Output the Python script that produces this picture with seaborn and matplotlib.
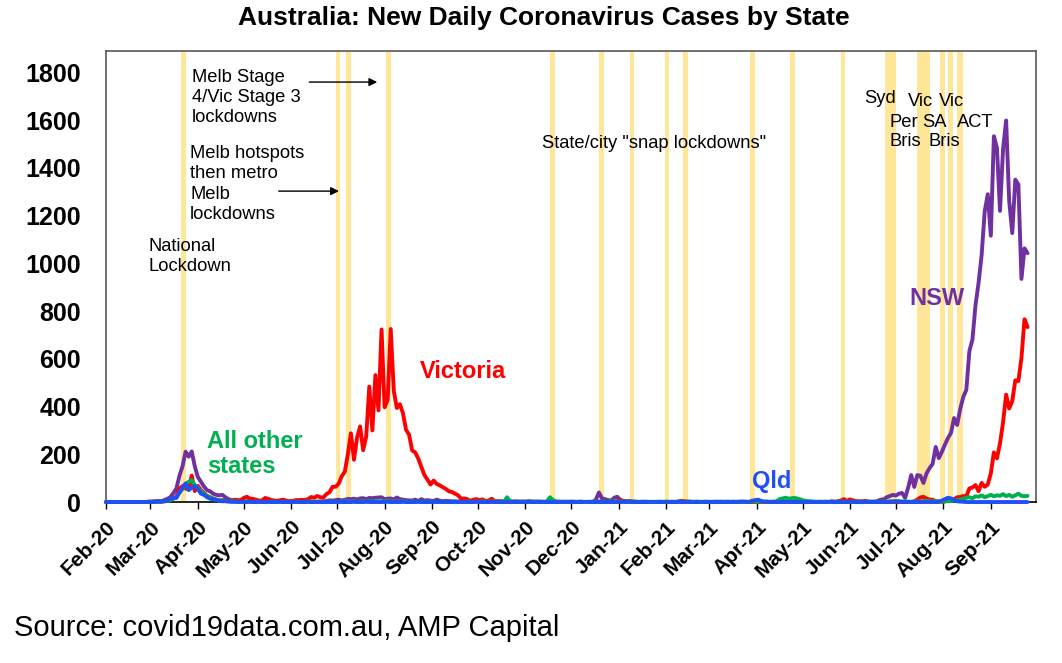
import numpy as np
import pandas as pd
import seaborn as sns
import matplotlib.pyplot as plt
import matplotlib.dates as mdates

sns.set_theme(style="white")
plt.rcParams['font.family'] = ['Liberation Sans', 'DejaVu Sans']
plt.rcParams['text.color'] = 'black'
plt.rcParams['xtick.color'] = 'black'
plt.rcParams['ytick.color'] = 'black'

# Daily cases, one value every 2 days from 1 Feb 2020 (rows of ~30 days)
start_date = "2020-02-01"
step_days = 2

victoria = [
    0, 0, 0, 0, 0, 0, 0, 0, 0, 0, 0, 0, 0, 0, 1,
    1, 1, 2, 1, 3, 6, 13, 14, 23, 57, 67, 56, 54, 111, 46,
    68, 50, 38, 26, 20, 15, 10, 6, 8, 3, 5, 3, 10, 8, 8,
    17, 22, 14, 13, 10, 6, 7, 17, 13, 9, 6, 5, 8, 10, 4,
    4, 4, 8, 8, 9, 8, 12, 21, 18, 25, 20, 19, 33, 41, 64,
    64, 77, 108, 127, 200, 288, 177, 270, 317, 217, 275, 484, 300, 532, 384,
    723, 397, 429, 725, 466, 394, 410, 372, 303, 282, 216, 208, 182, 148, 113,
    94, 73, 90, 76, 70, 62, 55, 45, 42, 35, 28, 14, 15, 12, 5,
    10, 12, 8, 11, 4, 6, 14, 2, 4, 3, 1, 5, 1, 0, 3,
    0, 1, 0, 2, 0, 0, 1, 0, 0, 0, 1, 0, 0, 0, 0,
    0, 0, 0, 0, 0, 0, 0, 0, 0, 0, 0, 0, 0, 0, 0,
    0, 0, 3, 8, 3, 2, 1, 0, 1, 0, 0, 0, 0, 0, 0,
    0, 0, 0, 0, 0, 0, 0, 3, 5, 3, 2, 1, 0, 0, 0,
    0, 0, 0, 0, 0, 0, 0, 0, 0, 0, 0, 0, 0, 0, 0,
    0, 0, 0, 0, 0, 0, 0, 0, 0, 0, 0, 0, 0, 0, 0,
    0, 0, 0, 0, 0, 0, 0, 0, 0, 0, 0, 0, 3, 1, 3,
    6, 12, 5, 11, 7, 4, 3, 3, 5, 2, 1, 1, 0, 1, 2,
    0, 0, 0, 0, 0, 0, 0, 0, 0, 3, 10, 19, 22, 14, 10,
    10, 3, 2, 1, 2, 8, 6, 11, 20, 21, 25, 24, 57, 61, 71,
    45, 80, 64, 73, 120, 208, 183, 246, 334, 450, 392, 423, 510, 507, 603,
    766, 733,
]

nsw = [
    0, 0, 0, 0, 0, 0, 0, 0, 0, 0, 0, 0, 0, 0, 2,
    2, 3, 4, 3, 8, 13, 20, 37, 57, 110, 150, 211, 190, 212, 150,
    105, 85, 65, 50, 45, 35, 30, 28, 30, 20, 12, 8, 6, 4, 3,
    3, 2, 5, 3, 2, 1, 3, 2, 4, 1, 2, 3, 1, 2, 1,
    1, 2, 1, 0, 3, 1, 2, 0, 1, 1, 2, 3, 4, 7, 6,
    8, 10, 7, 9, 13, 12, 14, 10, 15, 16, 12, 17, 16, 18, 19,
    20, 12, 14, 15, 11, 19, 12, 10, 8, 7, 6, 10, 4, 12, 6,
    8, 6, 4, 10, 6, 3, 5, 4, 3, 2, 2, 3, 5, 2, 1,
    3, 4, 2, 1, 3, 1, 2, 3, 1, 2, 1, 2, 1, 2, 1,
    1, 2, 1, 3, 1, 1, 2, 1, 0, 1, 2, 1, 0, 1, 0,
    0, 1, 0, 1, 0, 1, 0, 0, 1, 0, 10, 40, 15, 12, 8,
    6, 18, 22, 8, 5, 3, 4, 2, 1, 0, 1, 0, 0, 0, 0,
    0, 0, 0, 0, 0, 0, 0, 0, 0, 0, 0, 0, 0, 0, 0,
    0, 0, 0, 0, 0, 0, 0, 0, 0, 0, 0, 0, 0, 0, 1,
    0, 1, 0, 0, 0, 0, 0, 0, 0, 0, 0, 0, 0, 0, 0,
    0, 0, 0, 0, 0, 1, 0, 0, 0, 0, 0, 0, 0, 0, 0,
    0, 0, 0, 0, 0, 0, 0, 0, 0, 0, 0, 1, 4, 10, 11,
    20, 25, 30, 27, 35, 38, 17, 60, 113, 63, 113, 110, 80, 120, 142,
    160, 231, 184, 210, 240, 268, 290, 352, 323, 390, 440, 470, 633, 681, 825,
    919, 1035, 1218, 1290, 1116, 1533, 1485, 1220, 1480, 1599, 1262, 1127, 1351, 1331, 935,
    1063, 1043,
]

qld = [
    0, 0, 0, 0, 0, 0, 0, 0, 0, 0, 0, 0, 0, 0, 0,
    0, 1, 2, 2, 4, 5, 15, 17, 17, 40, 60, 78, 50, 60, 67,
    55, 35, 30, 20, 14, 12, 8, 5, 3, 4, 2, 1, 1, 0, 1,
    1, 0, 1, 0, 0, 1, 0, 0, 1, 0, 0, 0, 1, 0, 0,
    0, 0, 1, 0, 0, 0, 1, 0, 0, 0, 0, 1, 0, 0, 0,
    0, 1, 0, 0, 0, 0, 1, 0, 0, 0, 1, 0, 0, 0, 0,
    0, 0, 1, 0, 0, 0, 0, 1, 0, 0, 0, 0, 1, 0, 0,
    0, 0, 0, 1, 0, 0, 0, 0, 0, 1, 0, 0, 0, 0, 0,
    0, 1, 0, 0, 0, 0, 1, 0, 0, 0, 0, 0, 1, 0, 0,
    0, 0, 0, 1, 0, 0, 0, 0, 1, 0, 0, 0, 0, 0, 1,
    0, 0, 1, 0, 0, 0, 0, 1, 0, 0, 0, 1, 0, 0, 0,
    0, 0, 0, 0, 1, 0, 2, 1, 0, 0, 0, 0, 0, 1, 0,
    0, 0, 0, 1, 0, 0, 0, 0, 0, 0, 1, 0, 0, 0, 0,
    0, 0, 0, 0, 0, 1, 0, 0, 0, 0, 0, 0, 1, 2, 1,
    0, 5, 8, 10, 4, 2, 1, 0, 0, 0, 0, 0, 0, 0, 0,
    0, 0, 0, 0, 0, 0, 0, 0, 0, 0, 0, 0, 0, 0, 0,
    0, 0, 0, 0, 0, 0, 0, 0, 0, 0, 0, 0, 0, 0, 0,
    0, 0, 2, 3, 2, 1, 0, 0, 0, 0, 0, 0, 0, 0, 0,
    0, 0, 0, 6, 12, 18, 15, 9, 3, 2, 1, 0, 0, 0, 0,
    0, 0, 0, 0, 0, 0, 0, 0, 0, 0, 0, 0, 0, 0, 0,
    0, 0,
]

other_states = [
    0, 0, 0, 0, 0, 0, 0, 0, 0, 0, 0, 0, 0, 0, 0,
    0, 1, 1, 2, 3, 4, 8, 15, 22, 40, 55, 75, 85, 92, 70,
    60, 45, 35, 25, 20, 12, 10, 8, 6, 4, 3, 3, 2, 2, 1,
    1, 2, 1, 0, 1, 2, 1, 0, 1, 2, 1, 0, 1, 1, 0,
    1, 0, 2, 1, 0, 1, 2, 3, 1, 2, 1, 0, 1, 2, 1,
    2, 1, 3, 2, 4, 2, 3, 1, 2, 3, 2, 4, 3, 2, 3,
    2, 3, 4, 2, 3, 1, 2, 3, 2, 1, 2, 1, 2, 1, 2,
    1, 2, 1, 0, 1, 2, 1, 1, 0, 2, 1, 0, 1, 2, 1,
    1, 2, 1, 3, 2, 1, 2, 3, 2, 1, 2, 20, 3, 2, 1,
    2, 1, 2, 1, 3, 2, 1, 2, 1, 2, 20, 8, 3, 2, 1,
    2, 1, 2, 1, 1, 2, 1, 0, 1, 2, 1, 2, 1, 2, 1,
    2, 3, 2, 1, 2, 1, 2, 1, 2, 1, 1, 2, 1, 0, 1,
    1, 2, 1, 2, 1, 2, 1, 1, 2, 1, 1, 2, 1, 2, 1,
    1, 2, 1, 1, 2, 1, 2, 1, 2, 1, 2, 1, 2, 1, 1,
    1, 2, 2, 1, 2, 1, 2, 1, 2, 3, 12, 15, 18, 14, 16,
    17, 14, 10, 6, 4, 3, 2, 1, 2, 1, 2, 1, 2, 1, 2,
    2, 1, 2, 1, 2, 1, 2, 1, 2, 1, 2, 1, 2, 1, 2,
    2, 3, 2, 4, 3, 2, 3, 2, 1, 2, 3, 2, 4, 5, 3,
    3, 4, 3, 2, 3, 4, 5, 6, 8, 10, 14, 18, 20, 16, 24,
    22, 28, 20, 25, 30, 24, 28, 26, 33, 25, 30, 22, 28, 35, 26,
    24, 26,
]

# Lockdown periods (start date, length in days)
lockdown_starts = ["2020-03-21", "2020-06-30", "2020-07-07", "2020-08-02",
                   "2020-11-17", "2020-12-19", "2021-01-08", "2021-01-31",
                   "2021-02-12", "2021-03-28", "2021-04-23", "2021-05-26",
                   "2021-06-24", "2021-06-26", "2021-06-28", "2021-07-15",
                   "2021-07-19", "2021-07-30", "2021-08-04", "2021-08-10"]
lockdown_days = [3, 3, 3, 3, 3, 3, 3, 3, 3, 3, 3, 3, 3, 3, 3, 4, 4, 3, 3, 4]

series_names = ["NSW", "Victoria", "All other states", "Qld"]
series_colors = ["#7030A0", "#FF0000", "#00B050", "#1F4FF5"]

dates = pd.date_range(start_date, periods=len(victoria), freq=f"{step_days}D")
df = pd.concat([
    pd.DataFrame({"date": dates, "cases": vals, "state": name})
    for name, vals in zip(series_names, [nsw, victoria, other_states, qld])
])

fig = plt.figure(figsize=(10.62, 6.63), dpi=100)
ax = fig.add_axes([0.0998, 0.2428, 0.8757, 0.6802])

for s, d in zip(lockdown_starts, lockdown_days):
    s = pd.Timestamp(s)
    ax.axvspan(s, s + pd.Timedelta(days=d), color="#FFE699", lw=0, zorder=0)

sns.lineplot(data=df, x="date", y="cases", hue="state", hue_order=series_names,
             palette=series_colors, linewidth=2.8, legend=False, ax=ax, zorder=3)
for line in ax.get_lines():
    line.set_clip_on(False)

ax.set_xlim(pd.Timestamp("2020-02-01"), pd.Timestamp("2021-09-30 12:00"))
ax.set_ylim(0, 1890)
ax.set_yticks(range(0, 2000, 200))
ax.set_xlabel("")
ax.set_ylabel("")

ax.xaxis.set_major_locator(mdates.MonthLocator())
ax.xaxis.set_major_formatter(mdates.DateFormatter("%b-%y"))
ax.tick_params(axis="x", direction="out", length=5, width=1, color="black",
               pad=6, labelsize=15)
ax.tick_params(axis="y", length=0, pad=18, labelsize=18)
ax.tick_params(bottom=True)
for lab in ax.get_xticklabels():
    lab.set_rotation(45)
    lab.set_ha("right")
    lab.set_va("top")
    lab.set_rotation_mode("anchor")
    lab.set_fontweight("bold")
for lab in ax.get_yticklabels():
    lab.set_fontweight("bold")

for side in ["top", "right", "left"]:
    ax.spines[side].set_color("#595959")
    ax.spines[side].set_linewidth(1.2)
ax.spines["bottom"].set_color("black")
ax.spines["bottom"].set_linewidth(1.2)

# annotations
note = dict(fontsize=13.2, color="black", zorder=5)
ax.text(pd.Timestamp("2020-03-28"), 1815, "Melb Stage\n4/Vic Stage 3\nlockdowns",
        va="top", ha="left", linespacing=1.25, **note)
ax.text(pd.Timestamp("2020-03-27"), 1496, "Melb hotspots\nthen metro\nMelb\nlockdowns",
        va="top", ha="left", linespacing=1.25, **note)
ax.text(pd.Timestamp("2020-02-29"), 1106, "National\nLockdown",
        va="top", ha="left", linespacing=1.25, **note)
ax.annotate("", xy=(pd.Timestamp("2020-07-29"), 1760), xytext=(pd.Timestamp("2020-06-11"), 1760),
            arrowprops=dict(arrowstyle="-|>", color="black", lw=1, mutation_scale=12))
ax.annotate("", xy=(pd.Timestamp("2020-07-04"), 1303), xytext=(pd.Timestamp("2020-05-22"), 1303),
            arrowprops=dict(arrowstyle="-|>", color="black", lw=1, mutation_scale=12))
ax.text(pd.Timestamp("2020-11-12"), 1504, 'State/city "snap lockdowns"',
        va="center", ha="left", **note)

city_labels = [("Syd", "2021-06-10", 1693), ("Vic", "2021-07-09", 1680),
               ("Vic", "2021-07-29", 1680), ("Per", "2021-06-27", 1592),
               ("SA", "2021-07-18", 1592), ("ACT", "2021-08-10", 1592),
               ("Bris", "2021-06-27", 1513), ("Bris", "2021-07-22", 1513)]
for txt, d, v in city_labels:
    ax.text(pd.Timestamp(d), v, txt, va="center", ha="left", **note)

lab = dict(fontsize=17, fontweight="bold", zorder=5)
ax.text(pd.Timestamp("2020-08-24"), 545, "Victoria", color="#FF0000", va="center", **lab)
ax.text(pd.Timestamp("2020-04-07"), 201, "All other\nstates", color="#00B050",
        va="center", linespacing=1.15, **lab)
ax.text(pd.Timestamp("2021-07-10"), 855, "NSW", color="#7030A0", va="center", **lab)
ax.text(pd.Timestamp("2021-03-29"), 84, "Qld", color="#1F4FF5", va="center", **lab)

fig.text(0.512, 0.973, "Australia: New Daily Coronavirus Cases by State",
         ha="center", va="center", fontsize=19, fontweight="bold")
fig.text(0.013, 0.053, "Source: covid19data.com.au, AMP Capital",
         ha="left", va="center", fontsize=21)

fig.savefig("out.png", dpi=100)
